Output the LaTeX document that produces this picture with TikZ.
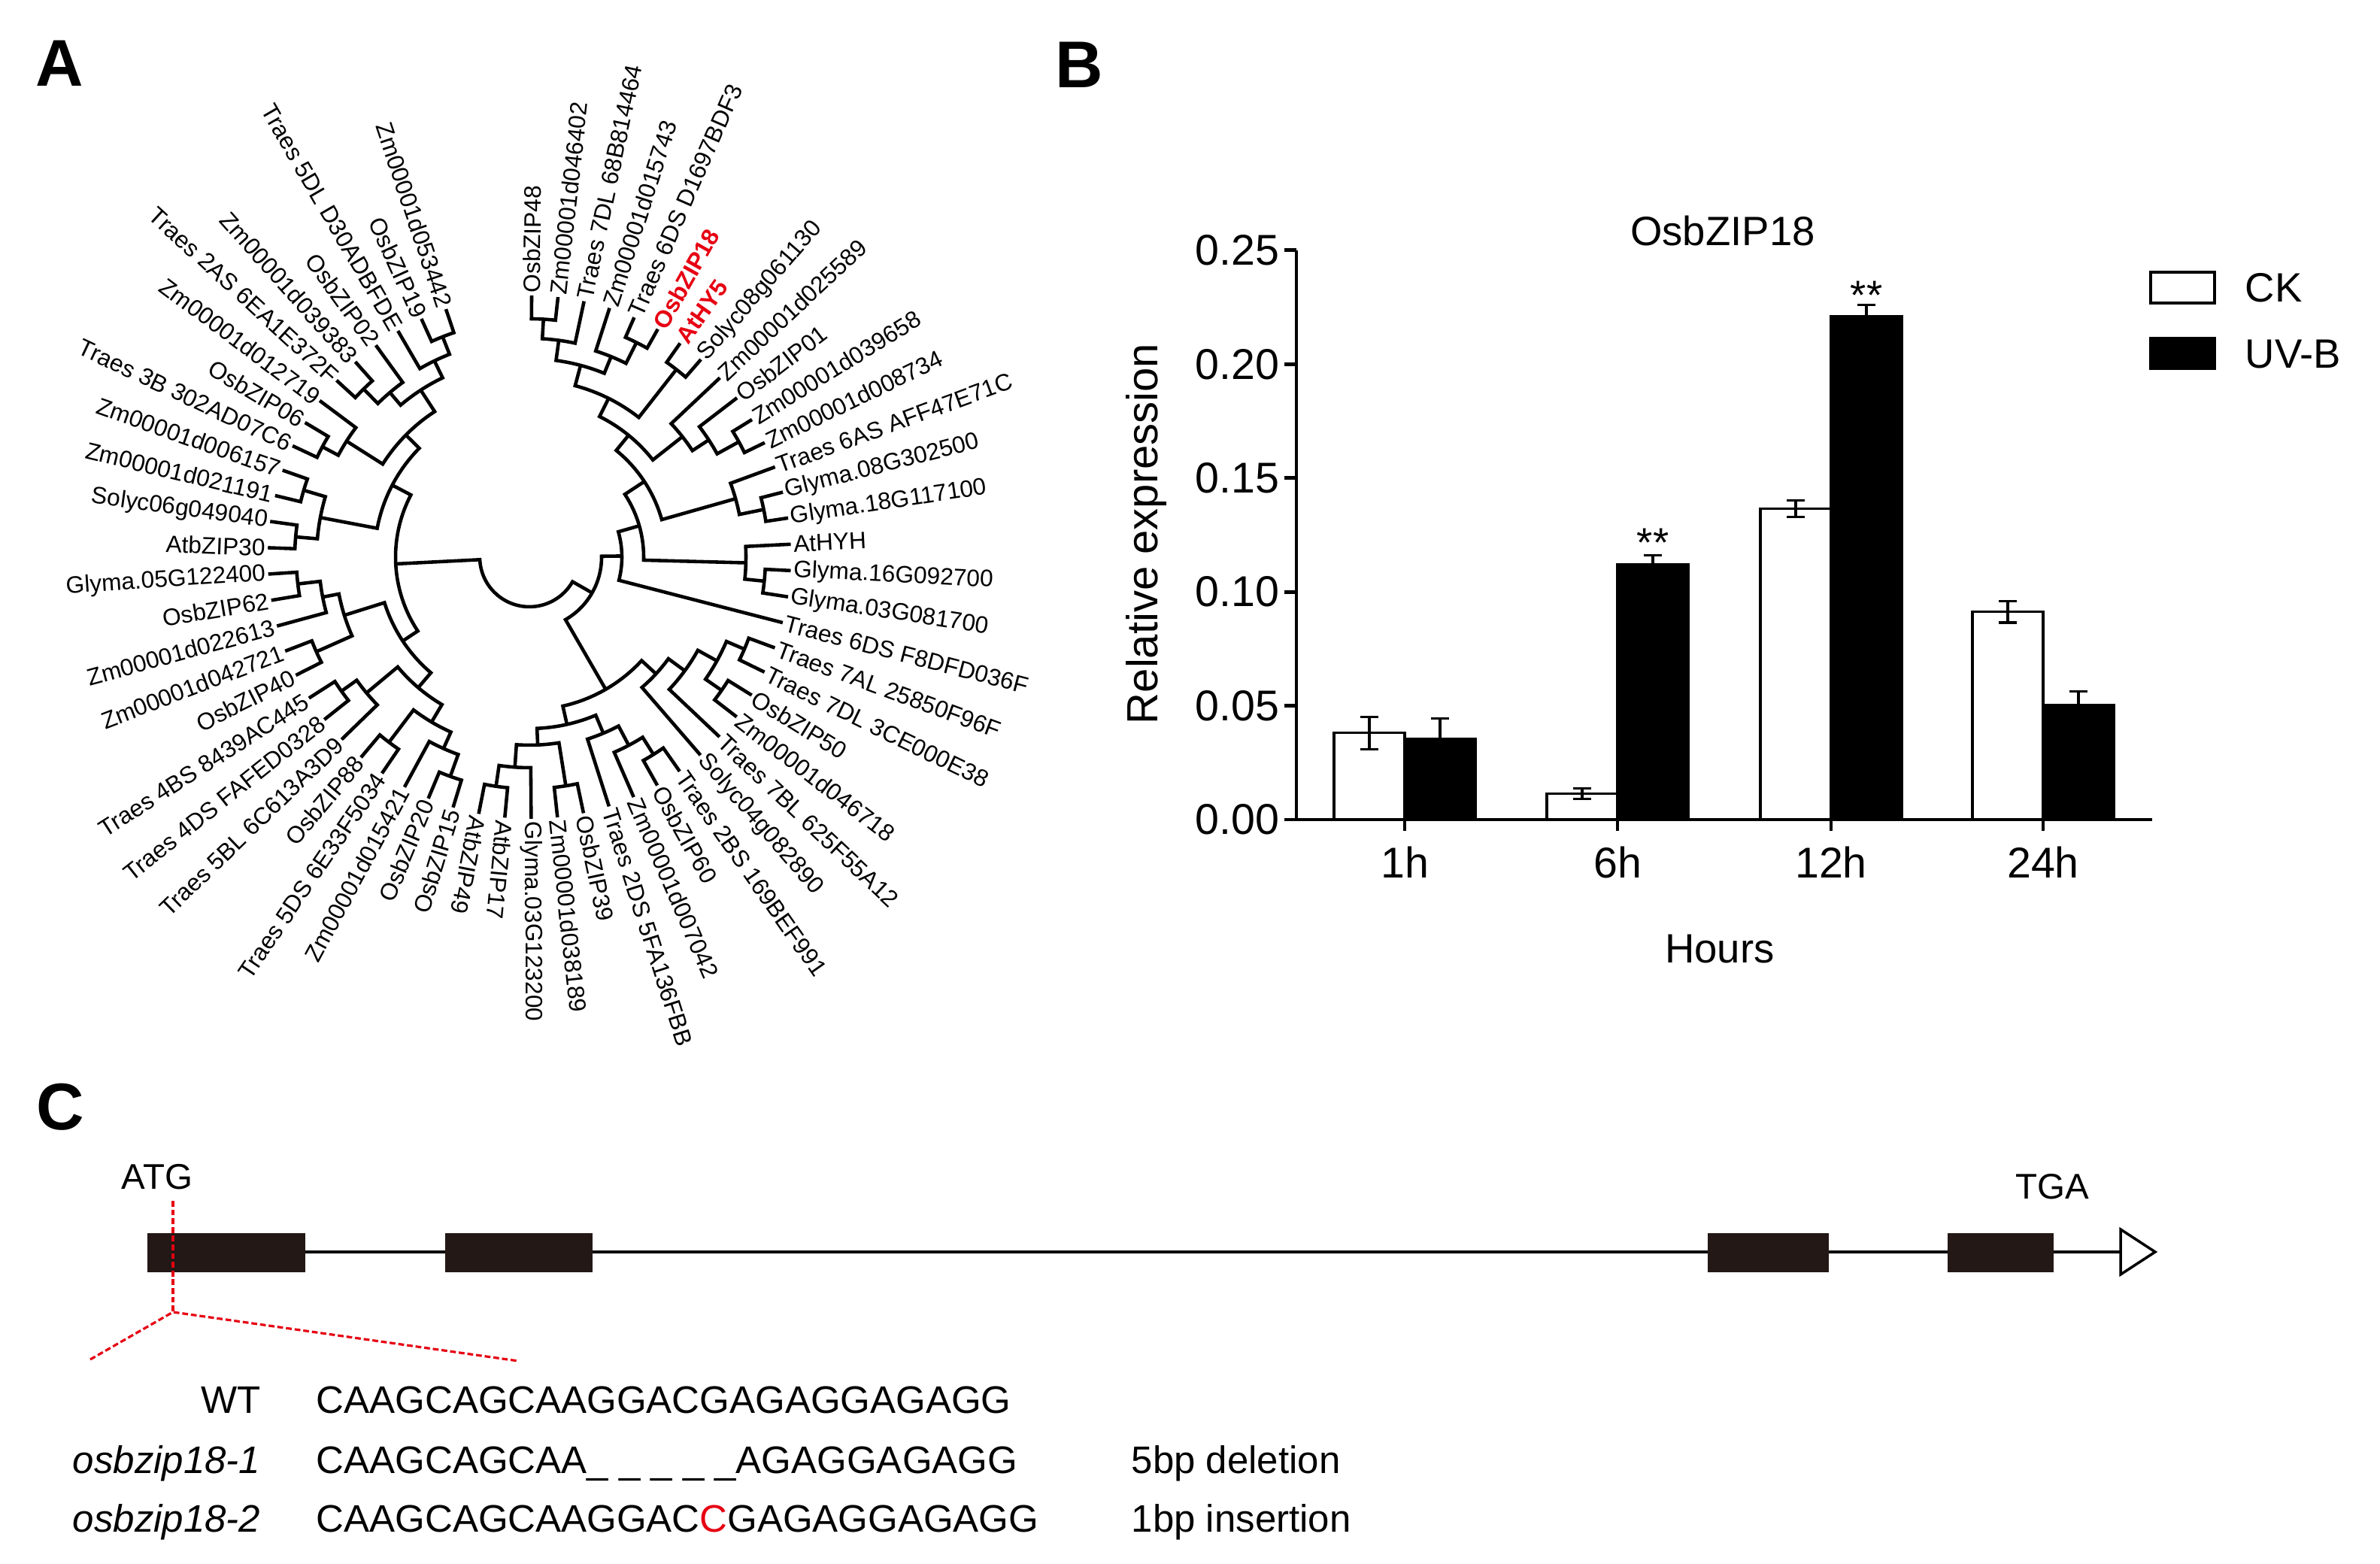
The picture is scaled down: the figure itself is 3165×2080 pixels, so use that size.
\documentclass[tikz,border=0pt]{standalone}
\usepackage{fontspec}
\setmainfont{Liberation Sans}
\definecolor{myred}{RGB}{230,0,18}
\definecolor{exonc}{RGB}{35,24,21}
\def\leafR{348}
\newcommand\Lf[3][]{%
  \pgfmathsetmacro\lfa{89.5-(#2-1)*5.778}%
  \expandafter\xdef\csname A@l#2\endcsname{\lfa}%
  \expandafter\xdef\csname R@l#2\endcsname{\leafR}%
  \ifnum#2<35
    \node[leaf,#1,anchor=west,rotate=\lfa] (n#2) at (\lfa:351) {#3};
  \else
    \pgfmathsetmacro\lfb{\lfa+180}%
    \node[leaf,#1,anchor=east,rotate=\lfb] (n#2) at (\lfa:351) {#3};
  \fi}
\newcommand\Cl[4]{%
  \edef\cAa{\csname A@#3\endcsname}\edef\cAb{\csname A@#4\endcsname}%
  \edef\cRa{\csname R@#3\endcsname}\edef\cRb{\csname R@#4\endcsname}%
  \pgfmathsetmacro\cAm{(\cAa+\cAb)/2}%
  \draw[tree] (\cAa:\cRa) -- (\cAa:#2) arc[start angle=\cAa, end angle=\cAb, radius=#2] -- (\cAb:\cRb);%
  \expandafter\xdef\csname A@#1\endcsname{\cAm}%
  \expandafter\xdef\csname R@#1\endcsname{#2}}
\newcommand\Bar[4]{%
  \pgfmathsetmacro\bT{990+#2*3028}%
  \pgfmathsetmacro\bE{#3*3028}%
  \pgfmathsetmacro\bM{#1+47}%
  \draw[#4] (#1,990) rectangle ({#1+94},\bT);
  \draw[ebar] (\bM,{\bT-\bE}) -- (\bM,{\bT+\bE})
    ({\bM-12},{\bT-\bE}) -- ({\bM+12},{\bT-\bE})
    ({\bM-12},{\bT+\bE}) -- ({\bM+12},{\bT+\bE});}
\begin{document}
\begin{tikzpicture}[x=0.01cm,y=0.01cm,
  tree/.style={line width=1.3pt, line join=miter},
  leaf/.style={font=\fontsize{9}{10}\selectfont, inner sep=0pt},
  redlab/.style={text=myred, font=\fontsize{9}{10}\selectfont\bfseries},
  panel/.style={font=\fontsize{25}{28}\selectfont\bfseries, inner sep=0pt},
  btext/.style={font=\fontsize{15.5}{17}\selectfont, inner sep=0pt},
  ticktext/.style={font=\fontsize{16.3}{18}\selectfont, inner sep=0pt},
  axis/.style={line width=1.4pt},
  wbar/.style={draw=black, fill=white, line width=0.9pt},
  kbar/.style={draw=black, fill=black, line width=0.9pt},
  ebar/.style={line width=0.9pt},
  ctext/.style={font=\fontsize{14.5}{16}\selectfont, inner sep=0pt},
  reddash/.style={draw=myred, line width=0.9pt, dash pattern=on 2.2pt off 1.1pt}]
\useasboundingbox (0,0) rectangle (3165,2080);
\fill[white] (0,0) rectangle (3165,2080);

% ---------- Panel labels
\node[panel] (pA) at (79,1996) {A};
\node[panel] (pB) at (1435,1994) {B};
\node[panel] (pC) at (80,608) {C};

% ---------- Panel A : circular tree
\begin{scope}[shift={(704,1339)}]
\Lf{1}{OsbZIP48}
\Lf{2}{Zm00001d046402}
\Lf{3}{Traes 7DL 68B814464}
\Lf{4}{Zm00001d015743}
\Lf{5}{Traes 6DS D1697BDF3}
\Lf[redlab]{6}{OsbZIP18}
\Lf[redlab]{7}{AtHY5}
\Lf{8}{Solyc08g061130}
\Lf{9}{Zm00001d025589}
\Lf{10}{OsbZIP01}
\Lf{11}{Zm00001d039658}
\Lf{12}{Zm00001d008734}
\Lf{13}{Traes 6AS AFF47E71C}
\Lf{14}{Glyma.08G302500}
\Lf{15}{Glyma.18G117100}
\Lf{16}{AtHYH}
\Lf{17}{Glyma.16G092700}
\Lf{18}{Glyma.03G081700}
\Lf{19}{Traes 6DS F8DFD036F}
\Lf{20}{Traes 7AL 25850F96F}
\Lf{21}{Traes 7DL 3CE000E38}
\Lf{22}{OsbZIP50}
\Lf{23}{Zm00001d046718}
\Lf{24}{Traes 7BL 625F55A12}
\Lf{25}{Solyc04g082890}
\Lf{26}{Traes 2BS 169BEF991}
\Lf{27}{OsbZIP60}
\Lf{28}{Zm00001d007042}
\Lf{29}{Traes 2DS 5FA136FBB}
\Lf{30}{OsbZIP39}
\Lf{31}{Zm00001d038189}
\Lf{32}{Glyma.03G123200}
\Lf{33}{AtbZIP17}
\Lf{34}{AtbZIP49}
\Lf{35}{OsbZIP15}
\Lf{36}{OsbZIP20}
\Lf{37}{Zm00001d015421}
\Lf{38}{Traes 5DS 6E33F5034}
\Lf{39}{OsbZIP88}
\Lf{40}{Traes 5BL 6C613A3D9}
\Lf{41}{Traes 4DS FAFED0328}
\Lf{42}{Traes 4BS 8439AC445}
\Lf{43}{OsbZIP40}
\Lf{44}{Zm00001d042721}
\Lf{45}{Zm00001d022613}
\Lf{46}{OsbZIP62}
\Lf{47}{Glyma.05G122400}
\Lf{48}{AtbZIP30}
\Lf{49}{Solyc06g049040}
\Lf{50}{Zm00001d021191}
\Lf{51}{Zm00001d006157}
\Lf{52}{Traes 3B 302AD07C6}
\Lf{53}{OsbZIP06}
\Lf{54}{Zm00001d012719}
\Lf{55}{Traes 2AS 6EA1E372F}
\Lf{56}{Zm00001d039383}
\Lf{57}{OsbZIP02}
\Lf{58}{Traes 5DL D30ADBFDE}
\Lf{59}{OsbZIP19}
\Lf{60}{Zm00001d053442}
% right upper
\Cl{c12}{317}{l1}{l2}
\Cl{cA}{291}{c12}{l3}
\Cl{c56}{319}{l5}{l6}
\Cl{cB}{288}{l4}{c56}
\Cl{cAB}{264}{cA}{cB}
\Cl{c78}{317}{l7}{l8}
\Cl{cX}{236}{cAB}{c78}
\Cl{c1112}{318}{l11}{l12}
\Cl{cZ}{285}{l10}{c1112}
\Cl{cY}{259}{l9}{cZ}
\Cl{cXY}{209}{cX}{cY}
\Cl{c1415}{318}{l14}{l15}
\Cl{cG}{285}{l13}{c1415}
\Cl{cN1}{183}{cXY}{cG}
\Cl{c1718}{314}{l17}{l18}
\Cl{cH}{288}{l16}{c1718}
\Cl{cN2}{152}{cN1}{cH}
\Cl{cN3}{123}{cN2}{l19}
% right lower
\Cl{c2021}{311}{l20}{l21}
\Cl{c2223}{311}{l22}{l23}
\Cl{cP2}{285}{c2021}{c2223}
\Cl{cP1}{256}{cP2}{l24}
\Cl{cP}{229}{cP1}{l25}
\Cl{c2627}{310}{l26}{l27}
\Cl{cQ1}{283}{c2627}{l28}
\Cl{cQa}{254}{cQ1}{l29}
\Cl{c3031}{308}{l30}{l31}
\Cl{c3334}{308}{l33}{l34}
\Cl{cQb}{280}{l32}{c3334}
\Cl{cQc}{250}{c3031}{cQb}
\Cl{cQ}{228}{cQa}{cQc}
\Cl{cLR}{203}{cP}{cQ}
\Cl{cR2}{96}{cN3}{cLR}
% left lower
\Cl{c3536}{310}{l35}{l36}
\Cl{cLD4}{279}{l37}{c3536}
\Cl{c3839}{309}{l38}{l39}
\Cl{cLD3}{255}{c3839}{cLD4}
\Cl{c4142}{307}{l41}{l42}
\Cl{cLD2a}{282}{l40}{c4142}
\Cl{cLD2}{228}{cLD2a}{cLD3}
\Cl{c4344}{310}{l43}{l44}
\Cl{c4647}{310}{l46}{l47}
\Cl{cLD1a}{280}{l45}{c4647}
\Cl{cLD1}{258}{c4344}{cLD1a}
\Cl{cLD}{202}{cLD1}{cLD2}
% left upper
\Cl{c4849}{312}{l48}{l49}
\Cl{c5051}{313}{l50}{l51}
\Cl{cLU1}{283}{c4849}{c5051}
\Cl{c5253}{312}{l52}{l53}
\Cl{cLU2a}{288}{c5253}{l54}
\Cl{c5556}{314}{l55}{l56}
\Cl{cLU2b1}{287}{c5556}{l57}
\Cl{c5960}{315}{l59}{l60}
\Cl{cLU2b2}{290}{l58}{c5960}
\Cl{cLU2b}{265}{cLU2b1}{cLU2b2}
\Cl{cLU2}{231}{cLU2a}{cLU2b}
\Cl{cLU}{206}{cLU1}{cLU2}
\Cl{cL}{178}{cLD}{cLU}
\Cl{root}{66}{cL}{cR2}
\end{scope}

% ---------- Panel B : bar chart
\node[btext] (btitle) at (2291,1773) {OsbZIP18};
\node[btext, rotate=90, font=\fontsize{16.5}{18}\selectfont] (bylab) at (1524,1370) {Relative expression};
\node[btext] (bxlab) at (2287,818) {Hours};
\Bar{1774}{0.038}{0.007}{wbar}
\Bar{1868}{0.0355}{0.009}{kbar}
\Bar{2057}{0.0115}{0.0023}{wbar}
\Bar{2151}{0.112}{0.004}{kbar}
\Bar{2341}{0.1365}{0.0037}{wbar}
\Bar{2435}{0.221}{0.005}{kbar}
\Bar{2623}{0.0912}{0.0047}{wbar}
\Bar{2717}{0.0502}{0.006}{kbar}
\draw[axis] (1724,1747) -- (1724,990) -- (2862,990);
\foreach \v/\t in {0/0.00,0.05/0.05,0.1/0.10,0.15/0.15,0.2/0.20,0.25/0.25} {
  \draw[axis] (1708,{990+\v*3028}) -- (1724,{990+\v*3028});
  \node[ticktext, anchor=east] at (1702,{990+\v*3028}) {\t};
}
\foreach \x/\t in {1868/1h,2151/6h,2435/12h,2717/24h} {
  \draw[axis] (\x,990) -- (\x,975);
  \node[ticktext] at (\x,933) {\t};
}
\node[btext] (s6) at (2198,1358) {**};
\node[btext] (s12) at (2482,1687) {**};
\draw[wbar] (2860,1677) rectangle (2945,1718);
\draw[kbar] (2860,1590) rectangle (2945,1630);
\node[btext, anchor=west] (lck) at (2985,1697) {CK};
\node[btext, anchor=west] (luv) at (2985,1609) {UV-B};

% ---------- Panel C : gene model
\draw[line width=1.1pt] (196,415) -- (2820,415);
\fill[exonc] (196,388) rectangle (406,440);
\fill[exonc] (592,388) rectangle (788,440);
\fill[exonc] (2271,388) rectangle (2432,440);
\fill[exonc] (2590,388) rectangle (2731,440);
\draw[line width=1pt, fill=white, line join=miter] (2820,445) -- (2866,415) -- (2820,385) -- cycle;
\node[ctext, font=\fontsize{13.5}{15}\selectfont] (atg) at (209,515) {ATG};
\node[ctext, font=\fontsize{13.5}{15}\selectfont] (tga) at (2729,502) {TGA};
\coordinate (zv) at (230,335);
\coordinate (zl) at (120,272);
\coordinate (zr) at (689,270);
\draw[reddash] (230,483) -- (zv);
\draw[reddash] (zl) -- (zv) -- (zr);
\node[ctext, anchor=base east] (wt) at (347,200) {WT};
\node[ctext, anchor=base east] (m1) at (347,120) {\itshape osbzip18-1};
\node[ctext, anchor=base east] (m2) at (347,42) {\itshape osbzip18-2};
\node[ctext, anchor=base west] (swt) at (420,200) {CAAGCAGCAAGGACGAGAGGAGAGG};
\node[ctext, anchor=base west] (s1) at (420,120) {CAAGCAGCAA\textunderscore{} \textunderscore{} \textunderscore{} \textunderscore{} \textunderscore AGAGGAGAGG};
\node[ctext, anchor=base west] (s2) at (420,42) {CAAGCAGCAAGGAC\textcolor{myred}{C}GAGAGGAGAGG};
\node[ctext, anchor=base west] (d1) at (1504,120) {5bp deletion};
\node[ctext, anchor=base west] (d2) at (1504,42) {1bp insertion};
\end{tikzpicture}
\end{document}
